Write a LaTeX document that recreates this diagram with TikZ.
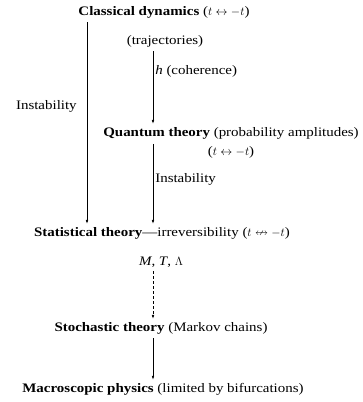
\documentclass[tikz,border=0pt]{standalone}
\usepackage{amssymb}
\usepackage{fontspec}
\setmainfont[FakeStretch=1.15]{Liberation Serif}
\usetikzlibrary{arrows.meta}

\begin{document}
\begin{tikzpicture}[x=1pt, y=-1pt, >={Latex[length=4pt,width=2.6pt]},
    every node/.style={font=\fontsize{13}{15}\selectfont, inner sep=1pt},
    link/.style={->, line width=0.6pt, shorten <=3pt, shorten >=2pt}]
    \useasboundingbox (0,0) rectangle (362,402);

    % 1. Cac tang ly thuyet
    \node (cd) at (164,12) {\textbf{Classical dynamics} ($t \leftrightarrow -t$)};
    \node (traj) at (165,41) {(trajectories)};
    \node (qt) at (231,133) {\textbf{Quantum theory} (probability amplitudes)};
    \node (qtt) at (231,152) {($t \leftrightarrow -t$)};
    \node (st) at (162,233) {\textbf{Statistical theory}---irreversibility ($t \nleftrightarrow -t$)};
    \node (mta) at (161,262) {\textit{M}, \textit{T}, $\Lambda$};
    \node (sto) at (161,328) {\textbf{Stochastic theory} (Markov chains)};
    \node (mac) at (163,389) {\textbf{Macroscopic physics} (limited by bifurcations)};

    % 2. Hai cot mui ten
    \coordinate (lx) at (87,0);
    \coordinate (rx) at (153,0);

    % 3. Mui ten
    \draw[link] (cd.south -| lx) -- node[pos=.42, left=9pt] (instl) {Instability} (st.north -| lx);
    \draw[link] (traj.south -| rx) -- node[pos=.3, right=1pt] (coh) {\textit{h} (coherence)} (qt.north -| rx);
    \draw[link] (qtt.north -| rx) ++(0,-4) coordinate (qs) -- node[pos=.45, right=1pt] (instr) {Instability} (st.north -| rx);
    \draw[link, densely dashed] (mta.south -| rx) -- (sto.north -| rx);
    \draw[link] (sto.south -| rx) -- (mac.north -| rx);
\end{tikzpicture}
\end{document}
